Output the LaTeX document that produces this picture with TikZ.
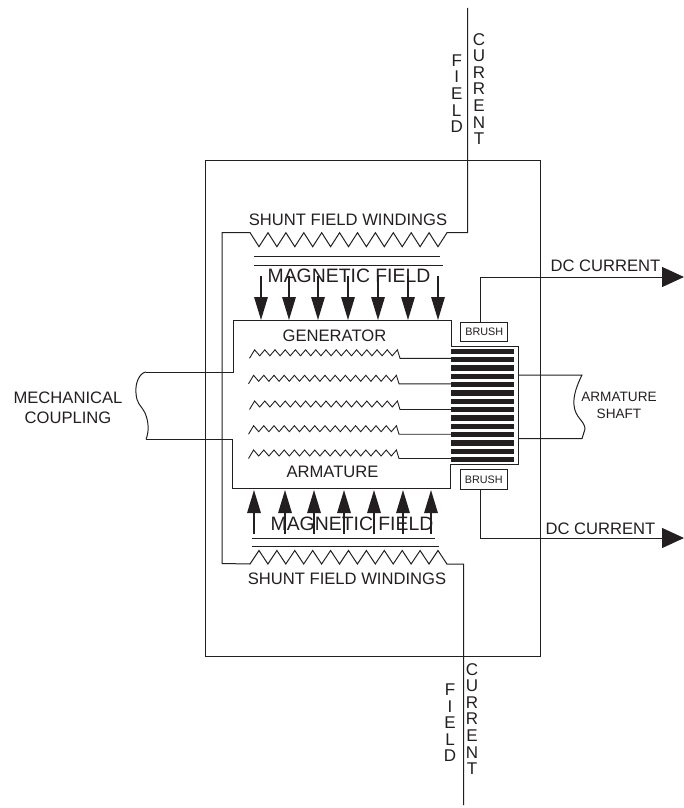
\documentclass[tikz,border=0pt]{standalone}
\usepackage{fontspec}
\setmainfont{Liberation Sans}
\usetikzlibrary{arrows.meta}
\definecolor{ink}{HTML}{231F20}
\tikzset{
  x=1pt,y=-1pt,
  wire/.style={draw=ink,line width=1pt,line join=miter},
  thinwire/.style={draw=ink,line width=0.9pt},
  fieldarrow/.style={draw=ink,line width=1.5pt,-{Triangle[length=23pt,width=13.5pt]}},
  outarrow/.style={draw=ink,line width=1pt,-{Triangle[length=22pt,width=20pt]}},
  txt/.style={text=ink,inner sep=0pt,font=\fontsize{16.6}{18}\selectfont},
  small/.style={text=ink,inner sep=0pt,font=\fontsize{13.6}{17}\selectfont},
  brushlbl/.style={text=ink,draw=ink,line width=1pt,fill=white,inner sep=0pt,minimum width=47pt,minimum height=19.5pt,font=\fontsize{10.8}{12}\selectfont},
  vtxt/.style={text=ink,inner sep=0pt,align=center,font=\fontsize{17}{16.6}\selectfont},
  bar/.style={fill=ink,draw=none}
}
\begin{document}
\begin{tikzpicture}
\useasboundingbox (0,0) rectangle (684,808);
% outer frame
\draw[wire] (205,160) rectangle (540,656);
% coordinates for field circuit
\coordinate (ttop) at (467.5,8);
\coordinate (tr) at (467.5,232.7);
\coordinate (tl) at (222,232.7);
\coordinate (bl) at (222,563.5);
\coordinate (br) at (463.5,564);
\coordinate (bbot) at (463.5,805);
% shunt windings
\draw[wire] (ttop) -- (tr) -- (447,232.7)
  \foreach \i in {0,...,10}{ -- ({447-17.9*\i-9},246.7) -- ({447-17.9*(\i+1)},232.7) }
  -- (tl) -- (bl) -- (250,564)
  \foreach \i in {0,...,10}{ -- ({250+17.9*\i+9},550.5) -- ({250+17.9*(\i+1)},564) }
  -- (br) -- (bbot);
% bars
\draw[wire] (254,256) -- (439.5,256);
\draw[wire] (254,265) -- (443,265);
\draw[wire] (252,538) -- (435,538);
\draw[wire] (252,546) -- (439,546);
% generator body
\draw[wire] (146,372) -- (233.5,372) -- (233.5,320.5) -- (451,320.5) -- (451,346.7) -- (518,346.7) -- (518,464.5) -- (450.7,464.5) -- (450.7,488.7) -- (232.5,488.7) -- (232.5,439.3) -- (146,439.3);
\draw[wire] (146,372) .. controls (139,373) and (135,384) .. (136,393) .. controls (136.5,404) and (141,405) .. (145,413) .. controls (149,422) and (149,432) .. (146,439.3);
% shaft
\draw[wire] (518,375) -- (582,375) .. controls (577,385) and (573,396) .. (574,405) .. controls (575,418) and (585,421) .. (585,429) -- (582,438.7) -- (518,438.7);
% commutator
\foreach \k in {0,...,13}{
  \fill[bar] (451,{351.3+8.33*\k-2.6}) rectangle (514,{351.3+8.33*\k+2.6});
}
% armature windings
\foreach \y/\dx in {358.3/0,383.8/-1,409.5/0,434.2/-1,458.5/-1}{
  \draw[thinwire] ({249.5+\dx},\y)
    \foreach \i in {0,...,13}{ -- ({249.5+\dx+5.1+10.2*\i},{\y-8.5}) -- ({249.5+\dx+10.2+10.2*\i},{\y-2.5}) }
    -- ({249.5+\dx+5.1+10.2*14},{\y-8.5}) -- ({400+\dx},\y) -- (451,\y);
}
% field arrows
\foreach \x in {261,289,318,348,378,408,438}{
  \coordinate (a) at (\x,276); \coordinate (b) at (\x,320);
  \draw[fieldarrow] (a) -- (b);
}
\foreach \x in {254,285,314,344,374,403,431}{
  \coordinate (a) at (\x,534); \coordinate (b) at (\x,490);
  \draw[fieldarrow] (a) -- (b);
}
% brushes
\node[brushlbl] (b1) at (484.3,332) {BRUSH};
\node[brushlbl] (b2) at (483.8,479.5) {BRUSH};
\coordinate (o1) at (684,277);
\coordinate (o2) at (684,538);
\draw[outarrow] (480,322) -- (480,277) -- (o1);
\draw[outarrow] (480,489) -- (480,538) -- (o2);
% labels
\node[txt] at (348,219.5) {SHUNT FIELD WINDINGS};
\node[txt] at (347,578.5) {SHUNT FIELD WINDINGS};
\node[txt,font=\fontsize{19.4}{21}\selectfont] at (349,276) {MAGNETIC FIELD};
\node[txt,font=\fontsize{19.4}{21}\selectfont] at (352,524) {MAGNETIC FIELD};
\node[txt] at (334.5,336) {GENERATOR};
\node[txt] at (332.5,472) {ARMATURE};
\node[txt] at (605.5,266) {DC CURRENT};
\node[txt] at (600.5,529) {DC CURRENT};
\node[txt] at (68,398) {MECHANICAL};
\node[txt] at (68,418) {COUPLING};
\node[small] at (619,397) {ARMATURE};
\node[small] at (619,414) {SHAFT};
% vertical labels
\node[vtxt,anchor=north] at (456.7,54.5) {F\\I\\E\\L\\D};
\node[vtxt,anchor=north] at (479,33) {C\\U\\R\\R\\E\\N\\T};
\node[vtxt,anchor=north] at (450,683.5) {F\\I\\E\\L\\D};
\node[vtxt,anchor=north] at (472,663) {C\\U\\R\\R\\E\\N\\T};
\end{tikzpicture}
\end{document}
